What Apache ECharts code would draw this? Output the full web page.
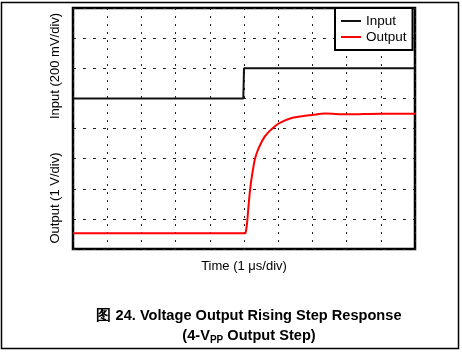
<!DOCTYPE html>
<html>
<head>
<meta charset="utf-8">
<script src="https://cdn.jsdelivr.net/npm/echarts@6/dist/echarts.min.js"></script>
<style>
  html, body { margin: 0; padding: 0; background: #fff; }
  #main { width: 462px; height: 352px; }
</style>
</head>
<body>
<div id="main"></div>
<script>
// 数据：横轴单位为格 (1 μs/div)，纵轴单位为格
var inputTime = [0, 4.98, 5.0, 10];
var inputDiv = [5, 5, 6, 6];

var outputTime = [0, 5.03, 5.06, 5.09, 5.13, 5.18, 5.25, 5.32, 5.40, 5.50, 5.60, 5.71, 5.82, 5.99, 6.2, 6.4, 6.7, 6.99, 7.37, 8.0, 8.5, 9.0, 10];
var outputDiv = [0.52, 0.52, 0.62, 0.86, 1.4, 1.99, 2.55, 2.99, 3.27, 3.52, 3.72, 3.87, 3.99, 4.15, 4.27, 4.35, 4.41, 4.45, 4.5, 4.47, 4.48, 4.49, 4.49];

var seriesNames = ['Input', 'Output'];

function pairs(xs, ys) {
    return xs.map(function (x, i) { return [x, ys[i]]; });
}

var myChart = echarts.init(document.getElementById('main'));
var font = 'Liberation Sans, Arial, sans-serif';

var option = {
    backgroundColor: '#fff',
    animation: false,
    grid: {
        left: 73, top: 8, width: 342, height: 241,
        show: true, borderColor: '#000', borderWidth: 2.5
    },
    legend: {
        data: seriesNames,
        orient: 'vertical',
        left: 335, top: 8,
        width: 80,
        backgroundColor: '#fff',
        borderColor: '#000',
        borderWidth: 2,
        padding: [6, 6, 6, 6],
        itemGap: 2,
        itemWidth: 20,
        itemHeight: 2,
        icon: 'rect',
        textStyle: { fontFamily: font, fontSize: 13.5, color: '#000', lineHeight: 14 }
    },
    xAxis: {
        type: 'value', min: 0, max: 10, interval: 1,
        axisLine: { show: false }, axisTick: { show: false }, axisLabel: { show: false },
        splitLine: { show: true, lineStyle: { color: '#222', width: 1, type: [2, 6] } }
    },
    yAxis: {
        type: 'value', min: 0, max: 8, interval: 1,
        axisLine: { show: false }, axisTick: { show: false }, axisLabel: { show: false },
        splitLine: { show: true, lineStyle: { color: '#222', width: 1, type: [3, 7] } }
    },
    series: [
        {
            name: 'Input', type: 'line', symbol: 'none',
            data: pairs(inputTime, inputDiv),
            lineStyle: { color: '#111', width: 2 },
            itemStyle: { color: '#111' }
        },
        {
            name: 'Output', type: 'line', symbol: 'none', smooth: 0.3,
            data: pairs(outputTime, outputDiv),
            lineStyle: { color: '#ff0000', width: 2 },
            itemStyle: { color: '#ff0000' }
        }
    ],
    graphic: [
        {
            type: 'rect', silent: true,
            shape: { x: 1.5, y: 2.5, width: 457, height: 346 },
            style: { fill: null, stroke: '#000', lineWidth: 1.5 }
        },
        {
            type: 'text', x: 55, y: 66, rotation: Math.PI / 2, silent: true,
            style: { text: 'Input (200 mV/div)', fontFamily: font, fontSize: 13, fill: '#000', align: 'center', verticalAlign: 'middle' }
        },
        {
            type: 'text', x: 55, y: 198, rotation: Math.PI / 2, silent: true,
            style: { text: 'Output (1 V/div)', fontFamily: font, fontSize: 13, fill: '#000', align: 'center', verticalAlign: 'middle' }
        },
        {
            type: 'text', x: 244, y: 266, silent: true,
            style: { text: 'Time (1 μs/div)', fontFamily: font, fontSize: 13, fill: '#000', align: 'center', verticalAlign: 'middle' }
        },
        {
            type: 'text', x: 249, y: 316, silent: true,
            style: { text: '图 24. Voltage Output Rising Step Response', fontFamily: font, fontWeight: 'bold', fontSize: 14.6, fill: '#000', align: 'center', verticalAlign: 'middle' }
        },
        {
            type: 'text', x: 249, y: 336, silent: true,
            style: {
                text: '{b|(4-V}{s|PP}{b| Output Step)}',
                align: 'center', verticalAlign: 'middle',
                rich: {
                    b: { fontFamily: font, fontWeight: 'bold', fontSize: 14.6, fill: '#000', lineHeight: 18, verticalAlign: 'middle' },
                    s: { fontFamily: font, fontWeight: 'bold', fontSize: 10, fill: '#000', lineHeight: 18, verticalAlign: 'bottom', padding: [5, 0, 0, 0] }
                }
            }
        }
    ]
};

myChart.setOption(option);
</script>
</body>
</html>
